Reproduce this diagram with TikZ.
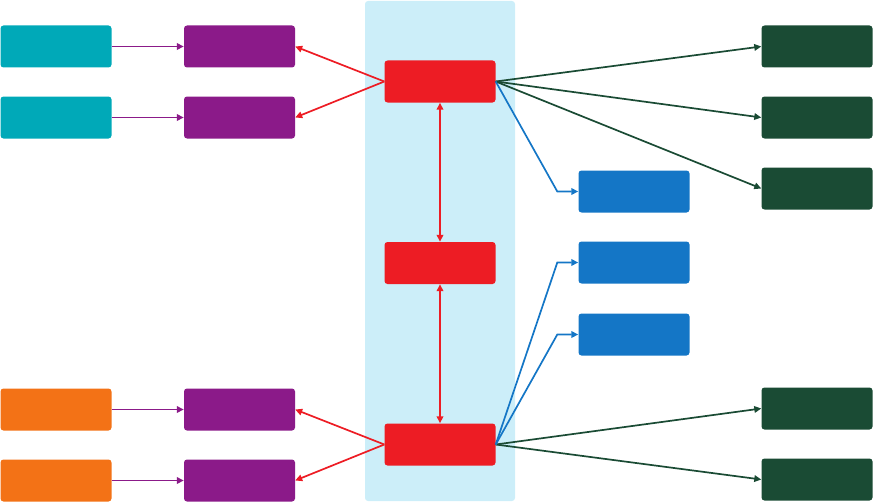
\documentclass[tikz,border=0pt]{standalone}
\usetikzlibrary{arrows.meta}
\definecolor{cteal}{RGB}{0,169,184}
\definecolor{cpurple}{RGB}{139,26,137}
\definecolor{corange}{RGB}{243,114,22}
\definecolor{cred}{RGB}{237,28,36}
\definecolor{cback}{RGB}{204,238,249}
\definecolor{cblue}{RGB}{20,118,198}
\definecolor{cgreen}{RGB}{26,75,52}
\tikzset{
  box/.style={rounded corners=3pt,minimum width=111pt,minimum height=42pt,inner sep=0pt},
  link/.style={line width=1.7pt,-{Triangle[length=7pt,width=6.5pt]}},
  dlink/.style={line width=1.7pt,{Triangle[length=7pt,width=6.5pt]}-{Triangle[length=7pt,width=6.5pt]}}
}
\begin{document}
\begin{tikzpicture}[x=1pt,y=-1pt]
\useasboundingbox (0,0) rectangle (873,503);
\fill[cback,rounded corners=3pt](365,1)rectangle(515,501);
\foreach \ky/\kn in {46.5/1,117.5/2}{\node[box,fill=cteal](t\kn)at(56,\ky){};\node[box,fill=cpurple](p\kn)at(239.5,\ky){};}
\foreach \ky/\kn in {409.5/3,480.5/4}{\node[box,fill=corange](t\kn)at(56,\ky){};\node[box,fill=cpurple](p\kn)at(239.5,\ky){};}
\foreach \ky/\kn in {81.5/1,263/2,444.5/3}{\node[box,fill=cred](r\kn)at(440,\ky){};}
\foreach \ky/\kn in {191.5/1,262.5/2,334.5/3}{\node[box,fill=cblue](b\kn)at(634,\ky){};}
\foreach \ky/\kn in {46.5/1,117.5/2,188.5/3,408.5/4,479.5/5}{\node[box,fill=cgreen](g\kn)at(817,\ky){};}
\foreach \kn in {1,2,3,4}{\draw[link,cpurple](t\kn)--(p\kn);}
\foreach \kn in {1,2}{\draw[link,cred](r1.west)--(p\kn.east);}
\foreach \kn in {3,4}{\draw[link,cred](r3.west)--(p\kn.east);}
\draw[dlink,cred](r1)--(r2);
\draw[dlink,cred](r2)--(r3);
\foreach \kn in {1,2,3}{\draw[link,cgreen](r1.east)--(g\kn.west);}
\foreach \kn in {4,5}{\draw[link,cgreen](r3.east)--(g\kn.west);}
\draw[link,cblue](r1.east)--([xshift=-21pt]b1.west)--(b1.west);
\foreach \kn in {2,3}{\draw[link,cblue](r3.east)--([xshift=-21pt]b\kn.west)--(b\kn.west);}
\end{tikzpicture}
\end{document}
